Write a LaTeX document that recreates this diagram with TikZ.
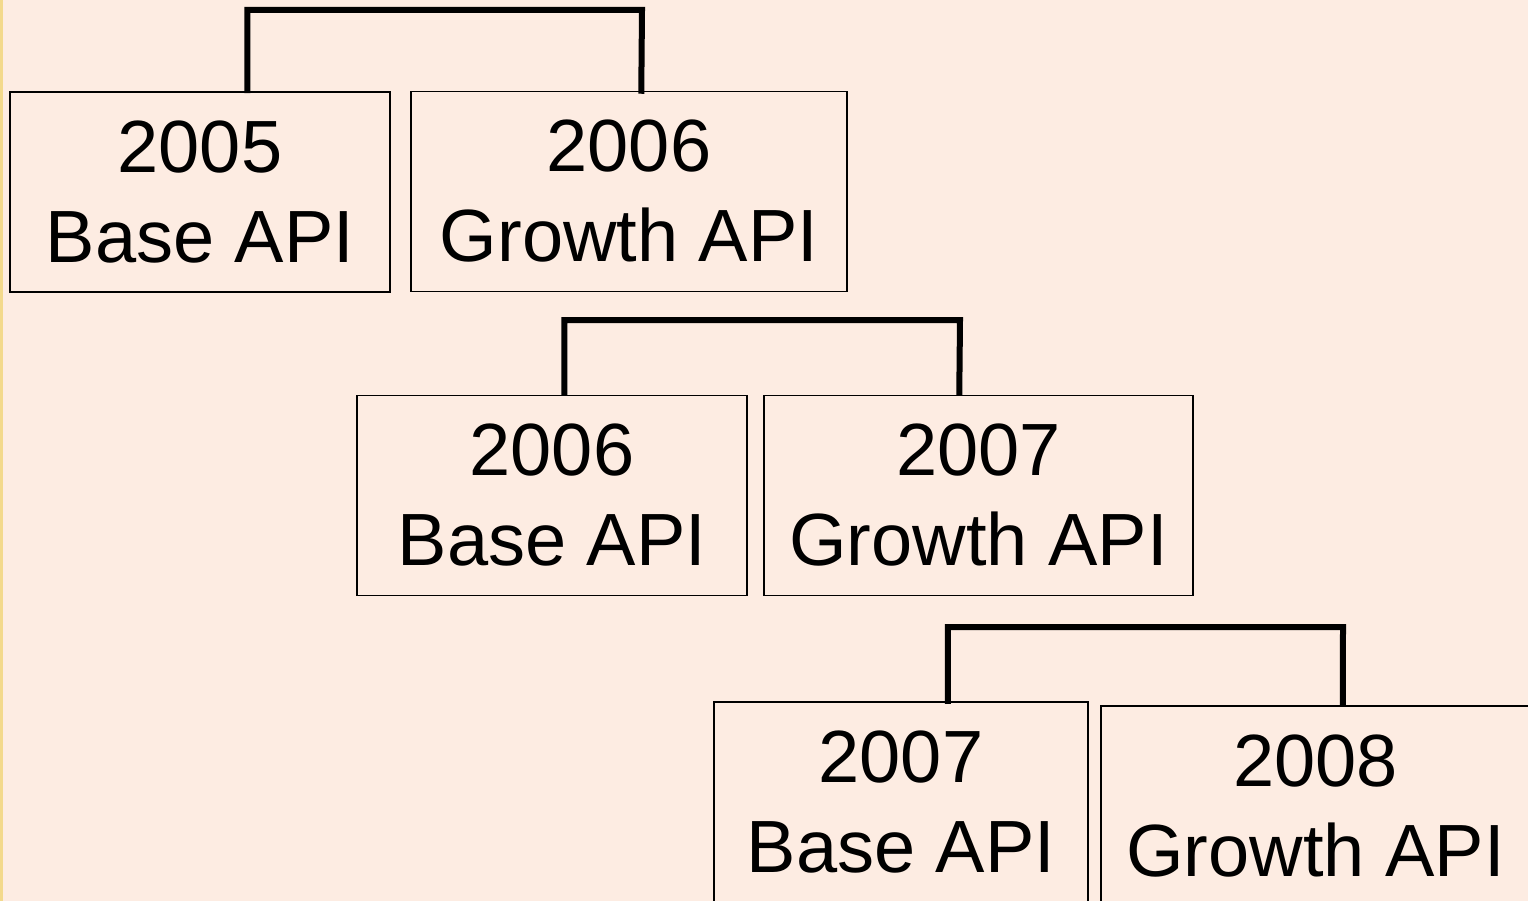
\documentclass[tikz,border=0pt]{standalone}
\usepackage{fontspec}
\setmainfont{Liberation Sans}
\definecolor{bgpeach}{HTML}{FDECE2}
\definecolor{edgeyellow}{HTML}{F3D98C}
\begin{document}
\begin{tikzpicture}[x=1pt,y=-1pt,
  apitext/.style={inner sep=0pt,align=center,
    font=\fontsize{74}{90}\selectfont,minimum height=200pt},
  apibox/.style={apitext,draw=black,line width=1.5pt},
  link/.style={line width=6pt,line join=miter}]
\useasboundingbox (0,0) rectangle (1528,901);
\clip (0,0) rectangle (1528,901);
\fill[bgpeach] (0,0) rectangle (1528,901);
\fill[edgeyellow] (0,0) rectangle (3,901);
% row 1
\node[apibox,minimum width=380pt] (A) at (200,192) {2005\\Base API};
\node[apibox,minimum width=436pt] (B) at (629,191.5) {2006\\Growth API};
% row 2
\node[apibox,minimum width=390pt] (C) at (552,495.5) {2006\\Base API};
\node[apibox,minimum width=429pt] (D) at (978.5,495.5) {2007\\Growth API};
% row 3 (boxes run off the bottom edge)
\node[apitext,minimum width=374pt] (E) at (901,802) {2007\\Base API};
\node[apitext,minimum width=429pt] (F) at (1315.5,806) {2008\\Growth API};
\draw[line width=1.5pt] (E.north west) rectangle ([yshift=-30pt]E.south east);
\draw[line width=1.5pt] (F.north west) rectangle ([yshift=-30pt]F.south east);
% connectors
\draw[link] ([xshift=238pt,yshift=-2pt]A.north west) |- (642,10) -- ([xshift=231pt,yshift=-3pt]B.north west);
\draw[link] ([xshift=208pt,yshift=-1pt]C.north west) |- (960,320) -- ([xshift=196pt,yshift=-1pt]D.north west);
\draw[link] ([xshift=234pt,yshift=-2pt]E.north west) |- (1343,627) -- ([xshift=242pt,yshift=-1pt]F.north west);
\end{tikzpicture}
\end{document}
